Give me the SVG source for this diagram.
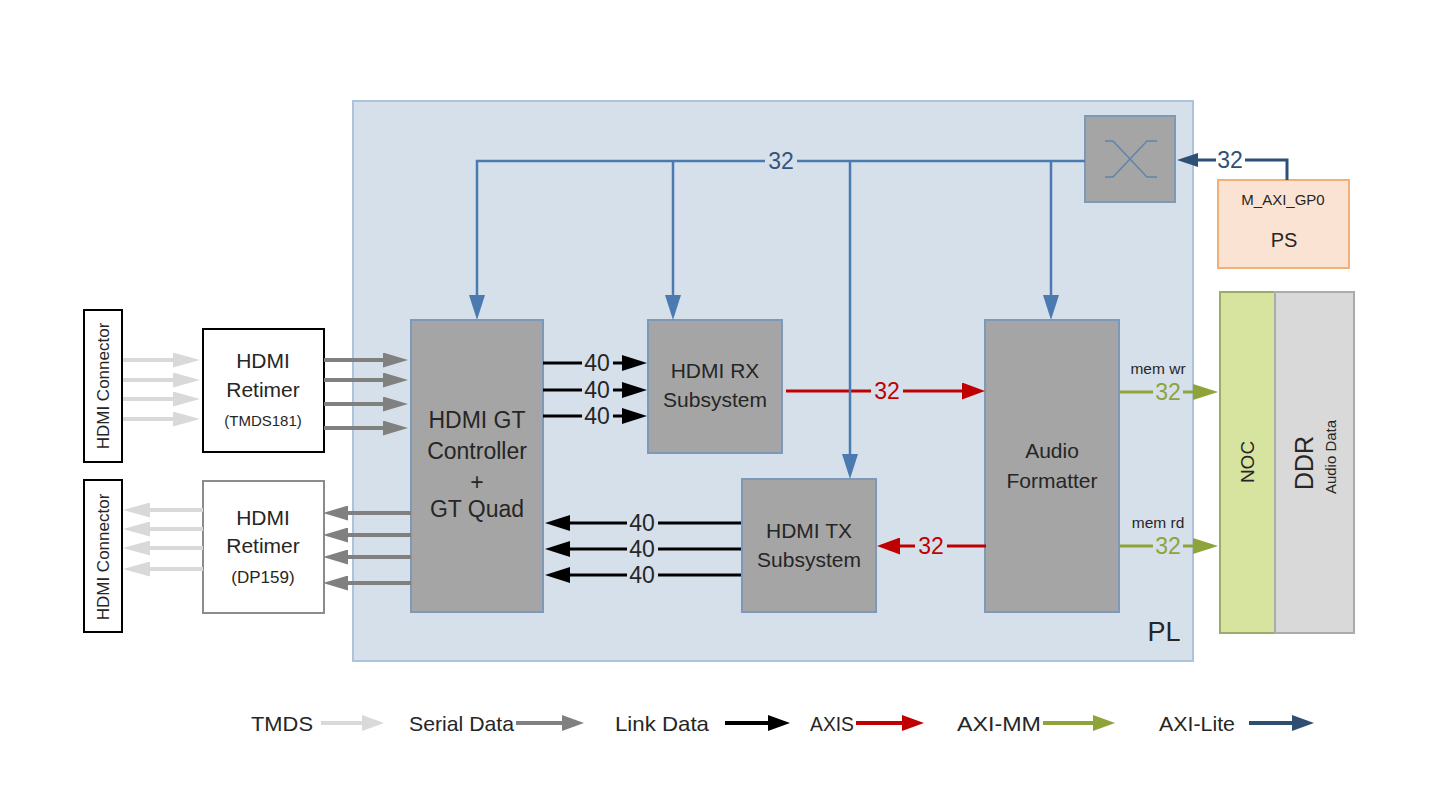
<svg xmlns="http://www.w3.org/2000/svg" width="1432" height="788" viewBox="0 0 1432 788">
<style>
text{font-family:"Liberation Sans",Arial,sans-serif;fill:#262626}
.blk{fill:#a5a5a5;stroke:#7e98b8;stroke-width:2}
.nt{font-size:21px;text-anchor:middle}
.gtt{font-size:23px;text-anchor:middle}
.sm{font-size:15px;text-anchor:middle}
.lab{font-size:23px;text-anchor:middle}
.bg{fill:#d6e0eb}
.lite{fill:none;stroke:#4a7ab0;stroke-width:2.5}
.link{fill:none;stroke:#000;stroke-width:3}
.axis{fill:none;stroke:#c00000;stroke-width:3}
.mm{fill:none;stroke:#8ea33a;stroke-width:3}
.ser{fill:none;stroke:#808080;stroke-width:4}
.tmds{fill:none;stroke:#d9d9d9;stroke-width:4}
.leg{font-size:21px}
</style>
<defs>
<marker id="hBlue" viewBox="0 0 25 16" refX="2" refY="8" markerWidth="25" markerHeight="16" markerUnits="userSpaceOnUse" orient="auto"><path d="M0,0 L25,8 L0,16 z" fill="#4a7ab0"/></marker>
<marker id="hNavy" viewBox="0 0 21 14" refX="2" refY="7" markerWidth="21" markerHeight="14" markerUnits="userSpaceOnUse" orient="auto"><path d="M0,0 L21,7 L0,14 z" fill="#2e5077"/></marker>
<marker id="hBlack" viewBox="0 0 25 16" refX="2" refY="8" markerWidth="25" markerHeight="16" markerUnits="userSpaceOnUse" orient="auto"><path d="M0,0 L25,8 L0,16 z" fill="#000"/></marker>
<marker id="hRed" viewBox="0 0 23 17" refX="2" refY="8.5" markerWidth="23" markerHeight="17" markerUnits="userSpaceOnUse" orient="auto"><path d="M0,0 L23,8.5 L0,17 z" fill="#c00000"/></marker>
<marker id="hGreen" viewBox="0 0 25 16" refX="2" refY="8" markerWidth="25" markerHeight="16" markerUnits="userSpaceOnUse" orient="auto"><path d="M0,0 L25,8 L0,16 z" fill="#8ea33a"/></marker>
<marker id="hSer" viewBox="0 0 25 15" refX="2" refY="7.5" markerWidth="25" markerHeight="15" markerUnits="userSpaceOnUse" orient="auto"><path d="M0,0 L25,7.5 L0,15 z" fill="#808080"/></marker>
<marker id="hTmds" viewBox="0 0 27 15" refX="2" refY="7.5" markerWidth="27" markerHeight="15" markerUnits="userSpaceOnUse" orient="auto"><path d="M0,0 L27,7.5 L0,15 z" fill="#d9d9d9"/></marker>
<marker id="lTmds" viewBox="0 0 22 16" refX="2" refY="8" markerWidth="22" markerHeight="16" markerUnits="userSpaceOnUse" orient="auto"><path d="M0,0 L22,8 L0,16 z" fill="#d9d9d9"/></marker>
<marker id="lSer" viewBox="0 0 22 16" refX="2" refY="8" markerWidth="22" markerHeight="16" markerUnits="userSpaceOnUse" orient="auto"><path d="M0,0 L22,8 L0,16 z" fill="#808080"/></marker>
<marker id="lLink" viewBox="0 0 22 16" refX="2" refY="8" markerWidth="22" markerHeight="16" markerUnits="userSpaceOnUse" orient="auto"><path d="M0,0 L22,8 L0,16 z" fill="#000"/></marker>
<marker id="lAxis" viewBox="0 0 22 16" refX="2" refY="8" markerWidth="22" markerHeight="16" markerUnits="userSpaceOnUse" orient="auto"><path d="M0,0 L22,8 L0,16 z" fill="#c00000"/></marker>
<marker id="lMM" viewBox="0 0 22 16" refX="2" refY="8" markerWidth="22" markerHeight="16" markerUnits="userSpaceOnUse" orient="auto"><path d="M0,0 L22,8 L0,16 z" fill="#8ea33a"/></marker>
<marker id="lLite" viewBox="0 0 22 16" refX="2" refY="8" markerWidth="22" markerHeight="16" markerUnits="userSpaceOnUse" orient="auto"><path d="M0,0 L22,8 L0,16 z" fill="#2e4e72"/></marker>
</defs>
<rect width="1432" height="788" fill="#fff"/>

<g id="pl">
<rect x="353" y="101" width="840" height="560" fill="#d6e0eb" stroke="#adc3da" stroke-width="2"/>
<text x="1164" y="641" font-size="27" text-anchor="middle">PL</text>
</g>

<g id="switch">
<rect class="blk" x="1085" y="116" width="90" height="86"/>
<path d="M1105,141 H1113 L1147,177 H1157 M1105,177 H1113 L1147,141 H1157" fill="none" stroke="#5f84ad" stroke-width="1.5"/>
</g>

<g id="ps">
<rect x="1218" y="180" width="131" height="88" fill="#fbe3d3" stroke="#f0b07a" stroke-width="2"/>
<text x="1283" y="205" font-size="15" text-anchor="middle">M_AXI_GP0</text>
<text x="1284" y="247" font-size="20" text-anchor="middle">PS</text>
</g>

<g id="noc">
<rect x="1220" y="292" width="55" height="341" fill="#d7e4a0" stroke="#9aab6a" stroke-width="2"/>
<text transform="translate(1247,462) rotate(-90)" font-size="19" text-anchor="middle" dominant-baseline="central">NOC</text>
</g>
<g id="ddr">
<rect x="1275" y="292" width="79" height="341" fill="#d9d9d9" stroke="#ababab" stroke-width="2"/>
<text transform="translate(1304,463) rotate(-90)" font-size="25" text-anchor="middle" dominant-baseline="central">DDR</text>
<text transform="translate(1330,457) rotate(-90)" font-size="15" text-anchor="middle" dominant-baseline="central">Audio Data</text>
</g>

<g id="gt">
<rect class="blk" x="411" y="320" width="132" height="292"/>
<text class="gtt" x="477" y="428">HDMI GT</text>
<text class="gtt" x="477" y="459">Controller</text>
<text class="gtt" x="477" y="490">+</text>
<text class="gtt" x="477" y="517">GT Quad</text>
</g>
<g id="rx">
<rect class="blk" x="648" y="320" width="134" height="133"/>
<text class="nt" x="715" y="378">HDMI RX</text>
<text class="nt" x="715" y="407">Subsystem</text>
</g>
<g id="tx">
<rect class="blk" x="742" y="479" width="134" height="133"/>
<text class="nt" x="809" y="538">HDMI TX</text>
<text class="nt" x="809" y="567">Subsystem</text>
</g>
<g id="audio">
<rect class="blk" x="985" y="320" width="134" height="292"/>
<text class="nt" x="1052" y="458">Audio</text>
<text class="nt" x="1052" y="488">Formatter</text>
</g>

<g id="conn-top">
<rect x="84" y="310" width="38" height="152" fill="#fff" stroke="#000" stroke-width="2"/>
<text transform="translate(103,386) rotate(-90)" font-size="17" text-anchor="middle" dominant-baseline="central">HDMI Connector</text>
</g>
<g id="conn-bot">
<rect x="84" y="480" width="38" height="152" fill="#fff" stroke="#000" stroke-width="2"/>
<text transform="translate(103,557) rotate(-90)" font-size="17" text-anchor="middle" dominant-baseline="central">HDMI Connector</text>
</g>
<g id="retimer-rx">
<rect x="203" y="329" width="121" height="123" fill="#fff" stroke="#000" stroke-width="2"/>
<text class="nt" x="263" y="368">HDMI</text>
<text class="nt" x="263" y="397">Retimer</text>
<text class="sm" x="263" y="426">(TMDS181)</text>
</g>
<g id="retimer-tx">
<rect x="203" y="481" width="121" height="132" fill="#fff" stroke="#8c8c8c" stroke-width="2"/>
<text class="nt" x="263" y="525">HDMI</text>
<text class="nt" x="263" y="553">Retimer</text>
<text class="nt" x="263" y="583" style="font-size:17px">(DP159)</text>
</g>

<g id="connectors">
<!-- AXIS -->
<path class="axis" d="M786,391 H964" marker-end="url(#hRed)"/>
<rect class="bg" x="871" y="380" width="32" height="24"/>
<text class="lab" x="887" y="399" style="fill:#c00000">32</text>
<path class="axis" d="M986,546 H898" marker-end="url(#hRed)"/>
<rect class="bg" x="915" y="535" width="32" height="24"/>
<text class="lab" x="931" y="554" style="fill:#c00000">32</text>

<!-- AXI-Lite bus -->
<path class="lite" d="M1085,161 H477 V297" marker-end="url(#hBlue)"/>
<path class="lite" d="M673,161 V297" marker-end="url(#hBlue)"/>
<path class="lite" d="M850,161 V456" marker-end="url(#hBlue)"/>
<path class="lite" d="M1051,161 V297" marker-end="url(#hBlue)"/>
<rect class="bg" x="765" y="148" width="32" height="26"/>
<text x="781" y="169" font-size="23" text-anchor="middle" style="fill:#34557a">32</text>
<path d="M1287,180 V160 H1196" fill="none" stroke="#2e5077" stroke-width="3" marker-end="url(#hNavy)"/>
<rect x="1216" y="148" width="29" height="24" fill="#fff"/>
<text x="1230" y="168" font-size="23" text-anchor="middle" style="fill:#2e5077">32</text>

<!-- Link data to RX -->
<path class="link" d="M543,363 H624" marker-end="url(#hBlack)"/>
<path class="link" d="M543,390 H624" marker-end="url(#hBlack)"/>
<path class="link" d="M543,416 H624" marker-end="url(#hBlack)"/>
<rect class="bg" x="582" y="352" width="31" height="74"/>
<text class="lab" x="597" y="371">40</text>
<text class="lab" x="597" y="398">40</text>
<text class="lab" x="597" y="424">40</text>
<!-- Link data from TX -->
<path class="link" d="M741,523 H568" marker-end="url(#hBlack)"/>
<path class="link" d="M741,549 H568" marker-end="url(#hBlack)"/>
<path class="link" d="M741,575 H568" marker-end="url(#hBlack)"/>
<rect class="bg" x="627" y="512" width="31" height="74"/>
<text class="lab" x="642" y="531">40</text>
<text class="lab" x="642" y="557">40</text>
<text class="lab" x="642" y="583">40</text>

<!-- AXI-MM -->
<path class="mm" d="M1119,392 H1195" marker-end="url(#hGreen)"/>
<rect class="bg" x="1153" y="381" width="30" height="24"/>
<text class="lab" x="1168" y="400" style="fill:#8ea33a">32</text>
<text x="1158" y="374" font-size="15.5" text-anchor="middle">mem wr</text>
<path class="mm" d="M1119,546 H1195" marker-end="url(#hGreen)"/>
<rect class="bg" x="1153" y="535" width="30" height="24"/>
<text class="lab" x="1168" y="554" style="fill:#8ea33a">32</text>
<text x="1158" y="528" font-size="15.5" text-anchor="middle">mem rd</text>

<!-- Serial data -->
<path class="ser" d="M324,360 H385" marker-end="url(#hSer)"/>
<path class="ser" d="M324,380 H385" marker-end="url(#hSer)"/>
<path class="ser" d="M324,404 H385" marker-end="url(#hSer)"/>
<path class="ser" d="M324,428 H385" marker-end="url(#hSer)"/>
<path class="ser" d="M411,513 H346" marker-end="url(#hSer)"/>
<path class="ser" d="M411,535 H346" marker-end="url(#hSer)"/>
<path class="ser" d="M411,557 H346" marker-end="url(#hSer)"/>
<path class="ser" d="M411,583 H346" marker-end="url(#hSer)"/>
<!-- TMDS -->
<path class="tmds" d="M123,360 H175" marker-end="url(#hTmds)"/>
<path class="tmds" d="M123,380 H175" marker-end="url(#hTmds)"/>
<path class="tmds" d="M123,399 H175" marker-end="url(#hTmds)"/>
<path class="tmds" d="M123,419 H175" marker-end="url(#hTmds)"/>
<path class="tmds" d="M203,510 H148" marker-end="url(#hTmds)"/>
<path class="tmds" d="M203,529 H148" marker-end="url(#hTmds)"/>
<path class="tmds" d="M203,548 H148" marker-end="url(#hTmds)"/>
<path class="tmds" d="M203,569 H148" marker-end="url(#hTmds)"/>
</g>

<g id="legend">
<text class="leg" x="251" y="731" textLength="62" lengthAdjust="spacingAndGlyphs">TMDS</text>
<path d="M321,723 H364" fill="none" stroke="#d9d9d9" stroke-width="4" marker-end="url(#lTmds)"/>
<text class="leg" x="409" y="731" textLength="105" lengthAdjust="spacingAndGlyphs">Serial Data</text>
<path d="M516,723 H564" fill="none" stroke="#808080" stroke-width="4" marker-end="url(#lSer)"/>
<text class="leg" x="615" y="731" textLength="94" lengthAdjust="spacingAndGlyphs">Link Data</text>
<path d="M725,723 H770" fill="none" stroke="#000" stroke-width="4" marker-end="url(#lLink)"/>
<text class="leg" x="810" y="731" textLength="44" lengthAdjust="spacingAndGlyphs">AXIS</text>
<path d="M856,723 H904" fill="none" stroke="#c00000" stroke-width="4" marker-end="url(#lAxis)"/>
<text class="leg" x="957" y="731" textLength="84" lengthAdjust="spacingAndGlyphs">AXI-MM</text>
<path d="M1043,723 H1095" fill="none" stroke="#8ea33a" stroke-width="4" marker-end="url(#lMM)"/>
<text class="leg" x="1159" y="731" textLength="76" lengthAdjust="spacingAndGlyphs">AXI-Lite</text>
<path d="M1249,723 H1294" fill="none" stroke="#2e4e72" stroke-width="4" marker-end="url(#lLite)"/>
</g>
</svg>
